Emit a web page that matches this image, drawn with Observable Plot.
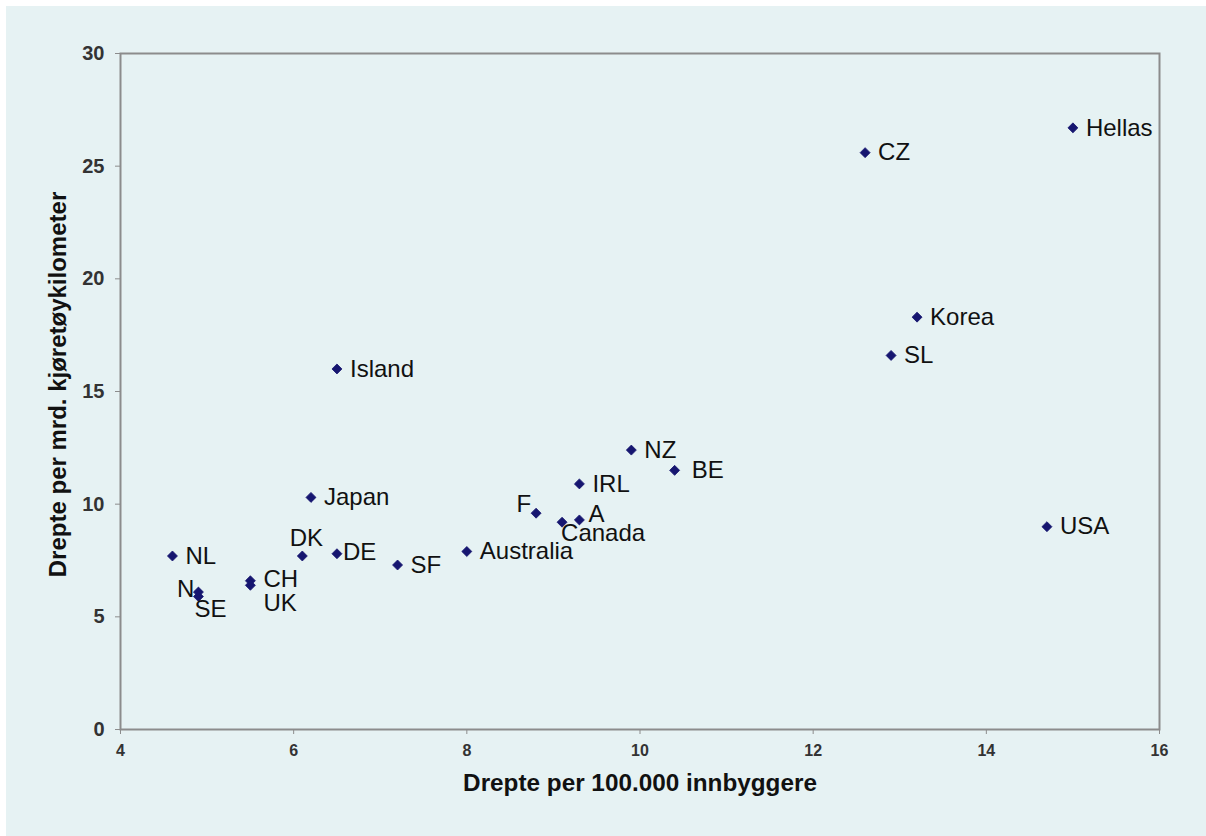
<!DOCTYPE html>
<html>
<head>
<meta charset="utf-8">
<script src="https://cdn.jsdelivr.net/npm/d3@7"></script>
<script src="https://cdn.jsdelivr.net/npm/@observablehq/plot@0.6"></script>
<style>
  html, body { margin: 0; padding: 0; background: #ffffff; }
  #chart { position: absolute; left: 6px; top: 6px; width: 1200px; height: 830px; background: #e6f2f3; }
  #chart svg { display: block; background: #e6f2f3; font-family: Arial, "Liberation Sans", sans-serif; }
</style>
</head>
<body>
<div id="chart"></div>
<script>
// Data
const countries = ["NL", "N", "SE", "CH", "UK", "DK", "DE", "SF", "Japan", "Island", "Australia", "F", "Canada", "A", "IRL", "NZ", "BE", "CZ", "Hellas", "Korea", "SL", "USA"];
const killedPer100k = [4.6, 4.9, 4.9, 5.5, 5.5, 6.1, 6.5, 7.2, 6.2, 6.5, 8.0, 8.8, 9.1, 9.3, 9.3, 9.9, 10.4, 12.6, 15.0, 13.2, 12.9, 14.7];
const killedPerBnVehKm = [7.7, 6.1, 5.9, 6.6, 6.4, 7.7, 7.8, 7.3, 10.3, 16.0, 7.9, 9.6, 9.2, 9.3, 10.9, 12.4, 11.5, 25.6, 26.7, 18.3, 16.6, 9.0];
const xTicks = [4, 6, 8, 10, 12, 14, 16];
const yTicks = [0, 5, 10, 15, 20, 25, 30];
const xTitle = "Drepte per 100.000 innbyggere";
const yTitle = "Drepte per mrd. kjøretøykilometer";

const data = countries.map((c, i) => ({country: c, x: killedPer100k[i], y: killedPerBnVehKm[i]}));

// label placement groups (styling, not data)
const special = {
  "N":      {textAnchor: "end",    dx: -4, dy: -3},
  "SE":     {textAnchor: "start",  dx: -4, dy: 13},
  "CH":     {textAnchor: "start",  dx: 13, dy: -1},
  "UK":     {textAnchor: "start",  dx: 13, dy: 18},
  "DK":     {textAnchor: "middle", dx: 4,  dy: -18},
  "DE":     {textAnchor: "start",  dx: 6,  dy: -1},
  "F":      {textAnchor: "end",    dx: -5, dy: -9},
  "A":      {textAnchor: "start",  dx: 9,  dy: -6},
  "Canada": {textAnchor: "start",  dx: -1, dy: 11},
  "BE":     {textAnchor: "start",  dx: 17, dy: 0}
};

const labelStyle = {x: "x", y: "y", text: "country", fontSize: 24, fill: "#111", fontFamily: "Arial, 'Liberation Sans', sans-serif"};

const labelMarks = [
  Plot.text(data.filter(d => !special[d.country]), {...labelStyle, textAnchor: "start", dx: 13})
];
for (const [name, opts] of Object.entries(special)) {
  labelMarks.push(Plot.text(data.filter(d => d.country === name), {...labelStyle, ...opts}));
}

const chart = Plot.plot({
  width: 1200,
  height: 830,
  marginLeft: 114,
  marginTop: 47,
  marginRight: 47,
  marginBottom: 107,
  style: {background: "#e6f2f3", fontFamily: "Arial, 'Liberation Sans', sans-serif"},
  x: {domain: [4, 16]},
  y: {domain: [0, 30]},
  marks: [
    Plot.frame({stroke: "#8c8c8c", strokeWidth: 2}),
    Plot.axisX({ticks: xTicks, tickSize: 5, tickPadding: 10, fontSize: 16, fontWeight: "bold", fill: "#333", stroke: "#8c8c8c", label: null}),
    Plot.axisY({ticks: yTicks, tickSize: 5, tickPadding: 11, fontSize: 20, fontWeight: "bold", fill: "#333", stroke: "#8c8c8c", label: null}),
    Plot.text([xTitle], {frameAnchor: "bottom", dy: 61, fontSize: 24.3, fontWeight: "bold", fill: "#111", textAnchor: "middle"}),
    Plot.text([yTitle], {frameAnchor: "left", dx: -62, dy: -7, rotate: -90, fontSize: 24, fontWeight: "bold", fill: "#111", textAnchor: "middle"}),
    Plot.dot(data, {x: "x", y: "y", symbol: "diamond2", r: 4.5, fill: "#161670", stroke: "#161670", strokeWidth: 0.8}),
    ...labelMarks
  ]
});

document.getElementById("chart").appendChild(chart);
</script>
</body>
</html>
